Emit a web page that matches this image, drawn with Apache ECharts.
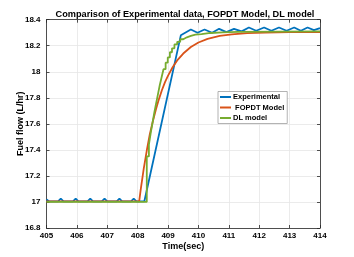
<!DOCTYPE html>
<html><head><meta charset="utf-8">
<script src="https://cdn.jsdelivr.net/npm/echarts@6/dist/echarts.min.js"></script>
<style>html,body{margin:0;padding:0;background:#fff}#c{width:354px;height:257px}</style>
</head><body><div id="c"></div>
<script>
// ---- data ----
var xTicks = [405, 406, 407, 408, 409, 410, 411, 412, 413, 414];
var yTicks = [16.8, 17, 17.2, 17.4, 17.6, 17.8, 18, 18.2, 18.4];

var expT = [405.0,405.08,405.38,405.47,405.56,405.87,405.96,406.05,406.35,406.44,406.53,406.82,406.91,407.0,407.31,407.4,407.49,407.78,407.87,407.96,408.22,409.42,409.75,409.97,410.2,410.45,410.68,410.92,411.17,411.42,411.66,411.9,412.16,412.4,412.65,412.9,413.15,413.37,413.59,413.8,414.0];
var expV = [17.02,17.005,17.005,17.025,17.005,17.005,17.025,17.005,17.005,17.025,17.005,17.005,17.025,17.005,17.005,17.025,17.005,17.005,17.025,17.005,17.005,18.28,18.325,18.30,18.325,18.30,18.33,18.305,18.33,18.31,18.34,18.315,18.34,18.315,18.34,18.315,18.34,18.315,18.34,18.32,18.335];

var fopdtT = [405.0,408.05,408.1,408.2,408.3,408.4,408.5,408.6,408.7,408.8,408.9,409.0,409.15,409.3,409.5,409.75,410.0,410.3,410.7,411.1,411.6,412.2,413.0,414.0];
var fopdtV = [17.005,17.005,17.095,17.256,17.395,17.52,17.62,17.71,17.79,17.86,17.92,17.97,18.035,18.087,18.14,18.19,18.225,18.253,18.276,18.288,18.297,18.301,18.304,18.305];

var dlT = [405.0,408.3,408.37,408.43,408.49,408.55,408.61,408.67,408.73,408.79,408.85,408.92,408.99,409.06,409.13,409.21,409.3,409.4,409.5,409.62,409.75,409.9,410.1,410.4,410.8,411.3,414.0];
var dlV = [17.0,17.35,17.44,17.53,17.61,17.69,17.76,17.83,17.9,17.96,18.02,18.07,18.11,18.15,18.18,18.21,18.23,18.25,18.265,18.275,18.285,18.29,18.298,18.303,18.307,18.31,18.31];

var names = ['Experimental', ' FOPDT Model', 'DL model'];
var colors = ['#0072BD', '#D95319', '#77AC30'];

function pairs(t, v) { return t.map(function (x, i) { return [x, v[i]]; }); }

var txt = '#262626';
var font = 'Liberation Sans, Arial, Helvetica, sans-serif';
var chart = echarts.init(document.getElementById('c'), null, {renderer: 'canvas'});
var grid = {left: 46.5, right: 34, top: 19.7, bottom: 29};
chart.setOption({
  animation: false,
  backgroundColor: '#fff',
  title: {
    text: 'Comparison of Experimental data, FOPDT Model, DL model',
    left: 180, top: 4.5, textAlign: 'center',
    textStyle: {fontSize: 9.2, fontWeight: 'bold', color: '#000', fontFamily: font}
  },
  grid: grid,
  legend: {
    orient: 'vertical', left: 218, top: 91.5,
    data: names,
    icon: 'rect', itemWidth: 11, itemHeight: 2, itemGap: 1.5,
    padding: [1, 3, 1, 2],
    backgroundColor: '#fff', borderColor: '#a0a0a0', borderWidth: 0.8,
    textStyle: {fontSize: 7.5, fontWeight: 'bold', color: '#000', fontFamily: font, lineHeight: 9, padding: [0, 0, 0, -3]}
  },
  xAxis: [{
    type: 'value', min: xTicks[0], max: xTicks[xTicks.length - 1], interval: 1,
    name: 'Time(sec)', nameLocation: 'middle', nameGap: 14, nameMoveOverlap: false,
    nameTextStyle: {fontSize: 9, fontWeight: 'bold', color: '#000', fontFamily: font},
    axisLine: {show: true, lineStyle: {color: txt, width: 0.8}},
    axisTick: {show: true, inside: true, length: 3, lineStyle: {color: txt, width: 0.8}},
    axisLabel: {fontSize: 8, color: '#000', margin: 4, fontFamily: font, fontWeight: 'bold'},
    splitLine: {show: true, lineStyle: {color: '#e6e6e6', width: 0.8}}
  }, {
    type: 'value', position: 'top', min: xTicks[0], max: xTicks[xTicks.length - 1], interval: 1,
    axisLine: {show: true, lineStyle: {color: txt, width: 0.8}},
    axisTick: {show: true, inside: true, length: 3, lineStyle: {color: txt, width: 0.8}},
    axisLabel: {show: false}, splitLine: {show: false}
  }],
  yAxis: [{
    type: 'value', min: yTicks[0], max: yTicks[yTicks.length - 1], interval: 0.2,
    name: 'Fuel flow (L/hr)', nameLocation: 'middle', nameGap: 21.5, nameMoveOverlap: false,
    nameTextStyle: {fontSize: 9, fontWeight: 'bold', color: '#000', fontFamily: font},
    axisLine: {show: true, lineStyle: {color: txt, width: 0.8}},
    axisTick: {show: true, inside: true, length: 3, lineStyle: {color: txt, width: 0.8}},
    axisLabel: {fontSize: 8, color: '#000', margin: 6, fontFamily: font, fontWeight: 'bold',
      formatter: function (v) { return String(Math.round(v * 10) / 10); }},
    splitLine: {show: true, lineStyle: {color: '#e6e6e6', width: 0.8}}
  }, {
    type: 'value', position: 'right', min: yTicks[0], max: yTicks[yTicks.length - 1], interval: 0.2,
    axisLine: {show: true, lineStyle: {color: txt, width: 0.8}},
    axisTick: {show: true, inside: true, length: 3, lineStyle: {color: txt, width: 0.8}},
    axisLabel: {show: false}, splitLine: {show: false}
  }],
  series: [
    {name: names[0], type: 'line', data: pairs(expT, expV), showSymbol: false, symbol: 'none',
     lineStyle: {color: colors[0], width: 1.8}, itemStyle: {color: colors[0]}, z: 2},
    {name: names[1], type: 'line', data: pairs(fopdtT, fopdtV), showSymbol: false, symbol: 'none',
     lineStyle: {color: colors[1], width: 1.8}, itemStyle: {color: colors[1]}, z: 3},
    {name: names[2], type: 'line', data: pairs(dlT, dlV), showSymbol: false, symbol: 'none', step: 'end',
     lineStyle: {color: colors[2], width: 1.8}, itemStyle: {color: colors[2]}, z: 4}
  ]
});
</script></body></html>
